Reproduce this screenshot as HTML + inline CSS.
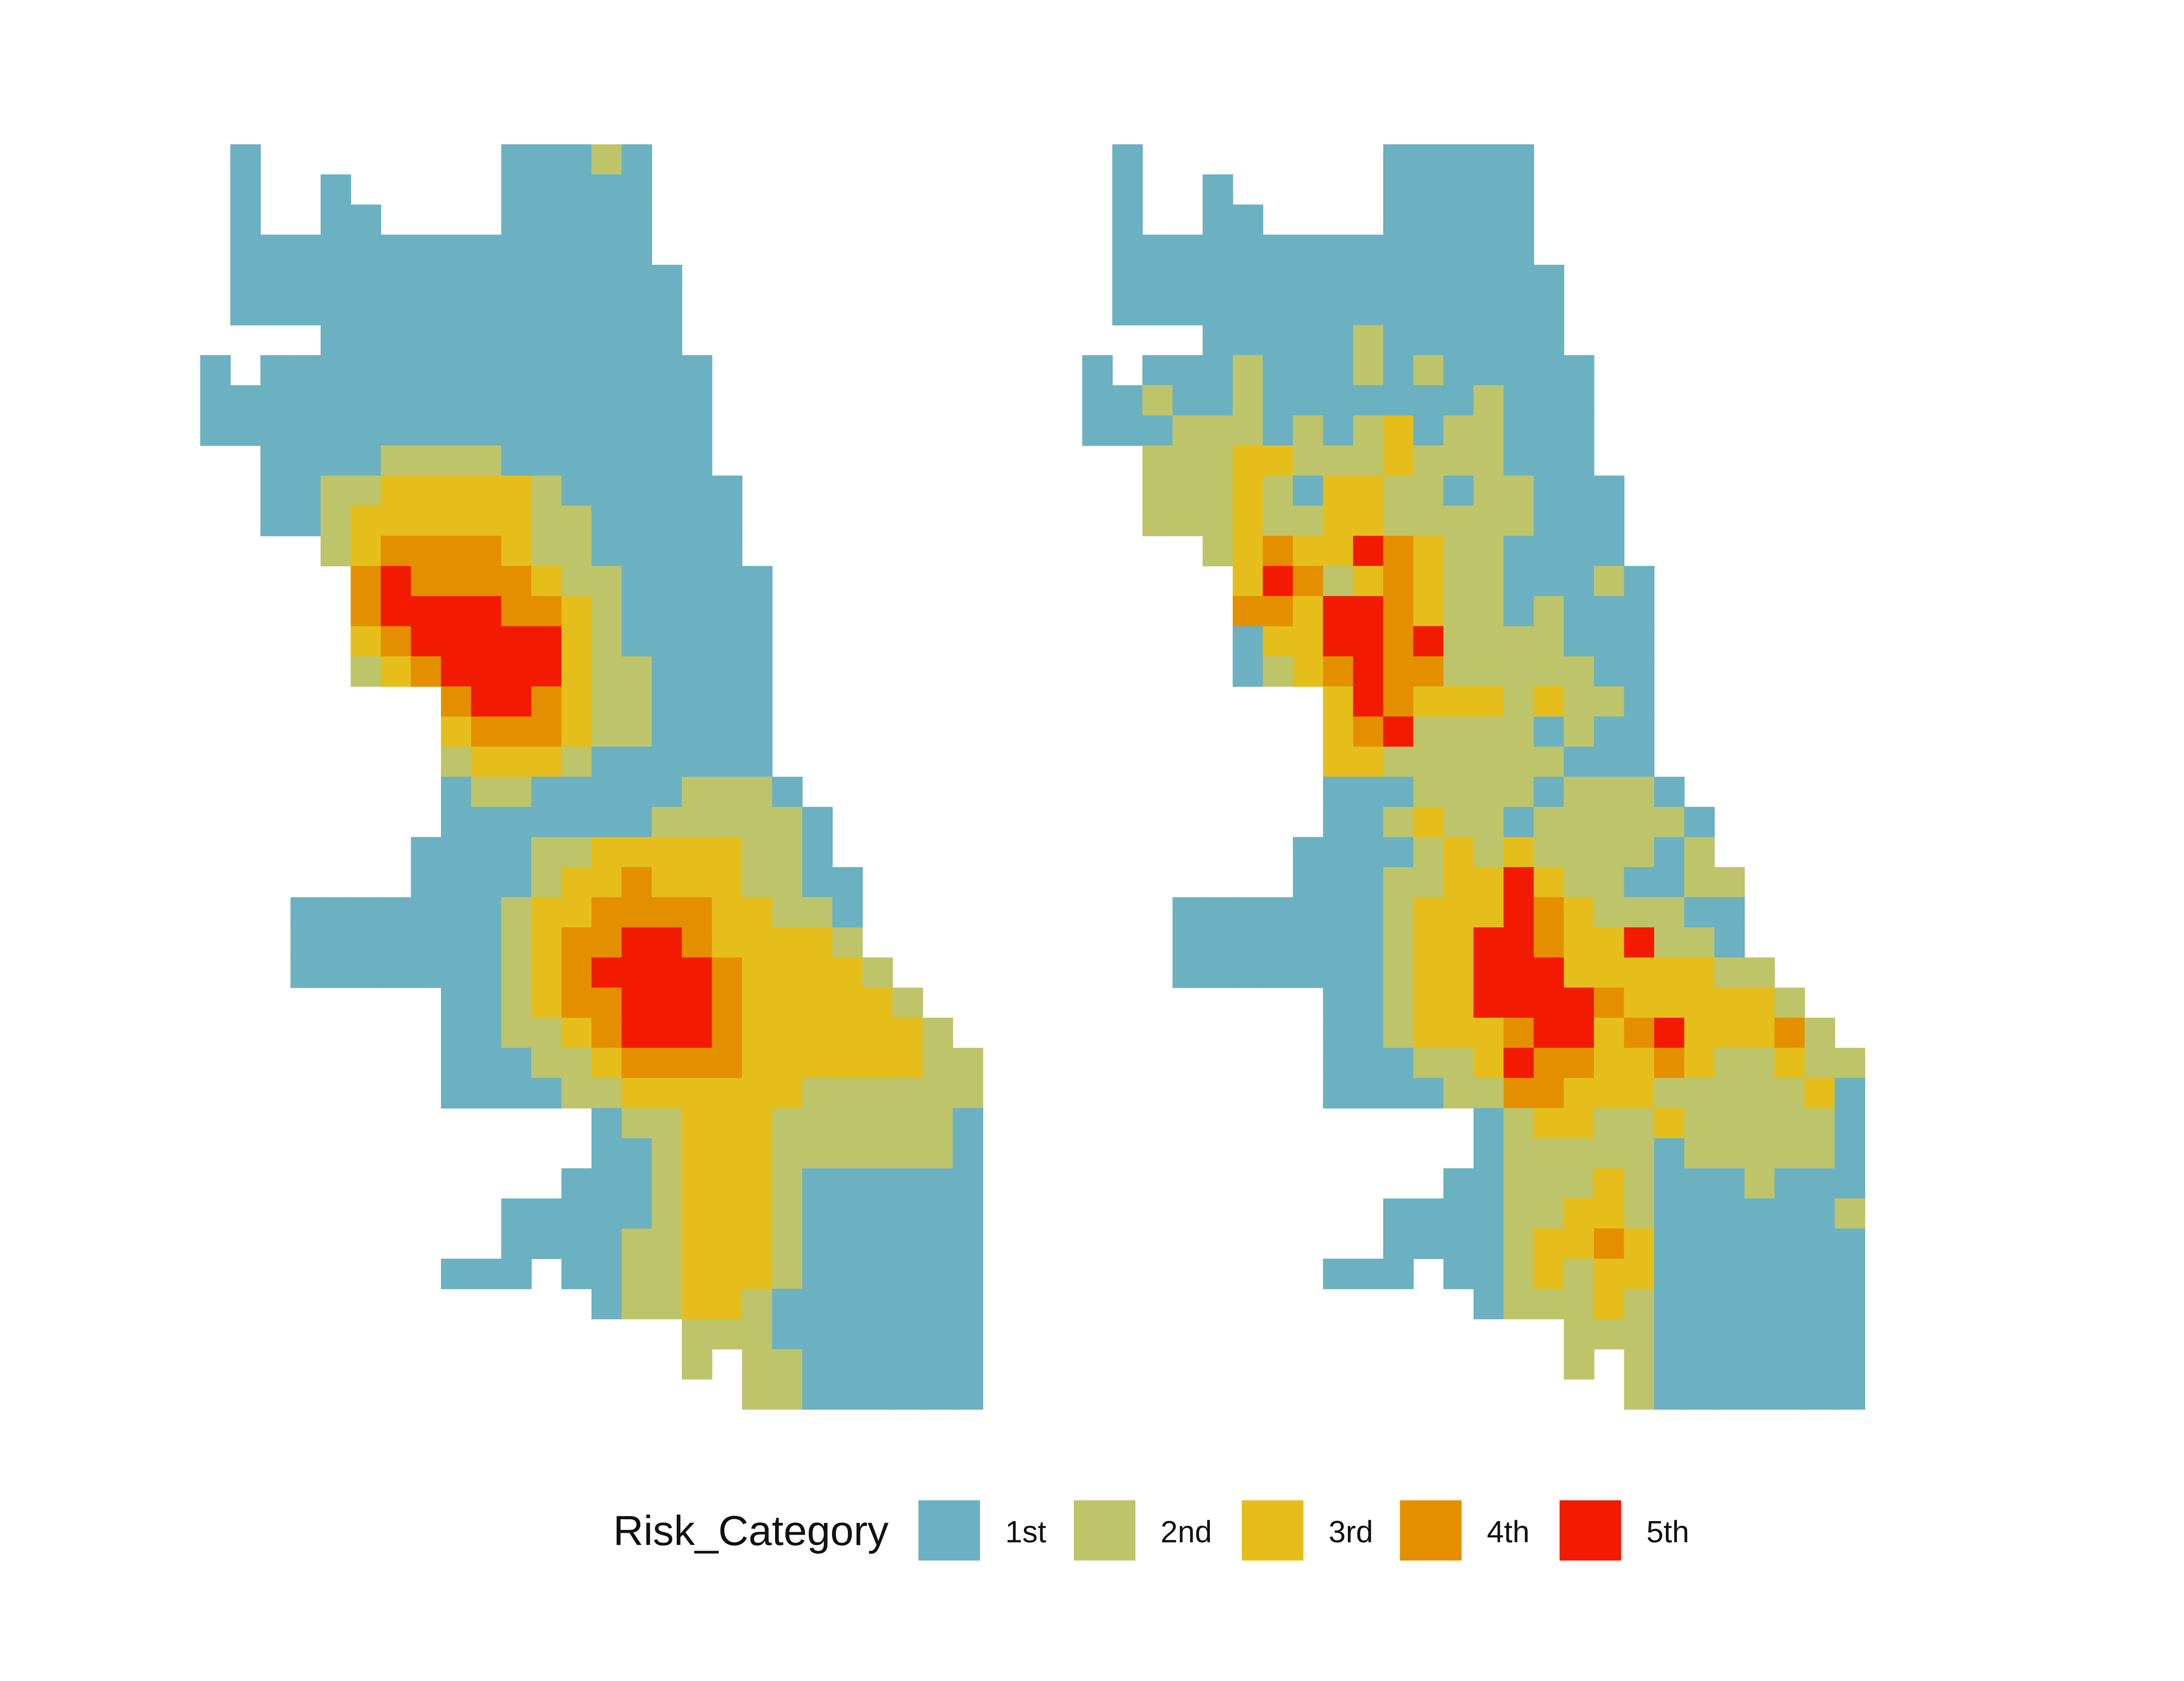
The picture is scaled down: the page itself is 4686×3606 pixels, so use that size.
<!DOCTYPE html>
<html>
<head>
<meta charset="utf-8">
<style>
html,body{margin:0;padding:0;background:#fff;}
svg{display:block;}
text{font-family:"Liberation Sans",Arial,sans-serif;fill:#111;}
</style>
</head>
<body>
<svg id="chart" width="4686" height="3606" viewBox="0 0 1560 1200" preserveAspectRatio="none" xmlns="http://www.w3.org/2000/svg">
  <rect x="0" y="0" width="1560" height="1200" fill="#ffffff"/>
  <g id="leftMap"></g>
  <g id="rightMap"></g>
  <g id="legend">
    <text x="438" y="1103" font-size="30">Risk_Category</text>
  </g>
</svg>
<script>
// Category labels and colours
const categories = ["1st","2nd","3rd","4th","5th"];
const catColors = ["#6BB1C1","#BEC46A","#E5BE1B","#E48F00","#F21A00"];

// Left map grid (rows top→bottom, 26 columns; '.' = no cell, 1..5 = risk category)
const leftRows = [
".1........11121...........",
".1..1.....11111...........",
".1..11....11111...........",
".11111111111111...........",
".111111111111111..........",
".111111111111111..........",
"....111111111111..........",
"1.111111111111111.........",
"11111111111111111.........",
"11111111111111111.........",
"..11112222"+"1111111"+".........",
"..1122333332111111........",
"..1123333332211111........",
"....23444432211111........",
".....45444432211111.......",
".....45555443211111.......",
".....34555553211111.......",
".....23455553221111.......",
"........45543221111.......",
"........34443221111.......",
"........23332111111.......",
"........122111112221......",
"........1111111222221.....",
"......."+"11112233333221"+".....",
"......."+"111123343332211"+"....",
"..."+"1111111233444433221"+"....",
"..."+"1111111234455433332"+"....",
"..."+"1111111"+"2345555433332"+"...",
"........"+"1123445554333332"+"..",
"........"+"11223455543333332"+".",
"........"+"111223444433333322",
"........"+"111122333333222222",
"............."+"1223332222221",
"............."+"1123332222221",
"............"+"11123332111111",
".........."+"1111123332111111",
".........."+"1111223332111111",
"........"+"111.11223332111111",
"............."+"1223321111111",
"................"+"2221111111",
"................"+"2.22111111",
".................."+"22111111"
];

// Right map grid
const rightRows = [
".1........11111...........",
".1..1.....11111...........",
".1..11....11111...........",
".11111111111111...........",
".111111111111111..........",
".111111111111111..........",
"....111112111111..........",
"1.111211121211111.........",
"11211211111112111.........",
"11122212123122111.........",
"..222332223222111.........",
".."+"2223213322122111"+"........",
".."+"2223223322222111"+"........",
"...."+"23433543221111"+"........",
"....."+"35423432211121"+".......",
"....."+"44355432212111"+".......",
"....."+"13355452222111"+".......",
"....."+"12345442222211"+".......",
"........"+"35433323221"+".......",
"........"+"34522221211"+".......",
"........"+"33222222111"+".......",
"........"+"111222212221"+"......",
"........"+"1123221222221"+".....",
"......."+"11112323222212"+".....",
"......."+"111223353221122"+"....",
"..."+"1111111233354322211"+"....",
"..."+"1111111233554335221"+"....",
"..."+"11111112335553333322"+"...",
"........"+"1123355554333332"+"..",
"........"+"11233345534533342"+".",
"........"+"111223544334322322",
"........"+"111122443332222231",
"............."+"1233223222221",
"............."+"1222221222221",
"............"+"11222321112111",
".........."+"1111223321111112",
".........."+"1111233431111111",
"........"+"111.11232331111111",
"............."+"1222321111111",
"................"+"2221111111",
"................"+"2.21111111",
".................."+"21111111"
];

const NS = "http://www.w3.org/2000/svg";
const CELL = 21.5, TOP = 103, NCOLS = 26;
function xScale(origin, col){ return origin + col*CELL; }
function yScale(row){ return TOP + row*CELL; }

function drawMap(groupId, rows, origin){
  const g = document.getElementById(groupId);
  rows.forEach((rowStr, r) => {
    const s = rowStr.padEnd(NCOLS, '.').slice(0, NCOLS);
    for (let c = 0; c < NCOLS; c++){
      const ch = s[c];
      if (ch === '.') continue;
      const k = parseInt(ch, 10) - 1;
      const rect = document.createElementNS(NS, 'rect');
      rect.setAttribute('x', xScale(origin, c));
      rect.setAttribute('y', yScale(r));
      rect.setAttribute('width', CELL + 0.3);
      rect.setAttribute('height', CELL + 0.3);
      rect.setAttribute('fill', catColors[k]);
      
      
      g.appendChild(rect);
    }
  });
}
drawMap('leftMap', leftRows, 143);
drawMap('rightMap', rightRows, 773);

// Legend
const legendKeyX = [656, 767, 887, 1000, 1114];
const leg = document.getElementById('legend');
categories.forEach((lab, i) => {
  const r = document.createElementNS(NS, 'rect');
  r.setAttribute('x', legendKeyX[i]);
  r.setAttribute('y', 1071);
  r.setAttribute('width', 44);
  r.setAttribute('height', 43);
  r.setAttribute('fill', catColors[i]);
  
  
  leg.appendChild(r);
  const t = document.createElementNS(NS, 'text');
  t.setAttribute('x', legendKeyX[i] + 62);
  t.setAttribute('y', 1101);
  t.setAttribute('font-size', '22');
  t.textContent = lab;
  
  
  leg.appendChild(t);
});
</script>
</body>
</html>
